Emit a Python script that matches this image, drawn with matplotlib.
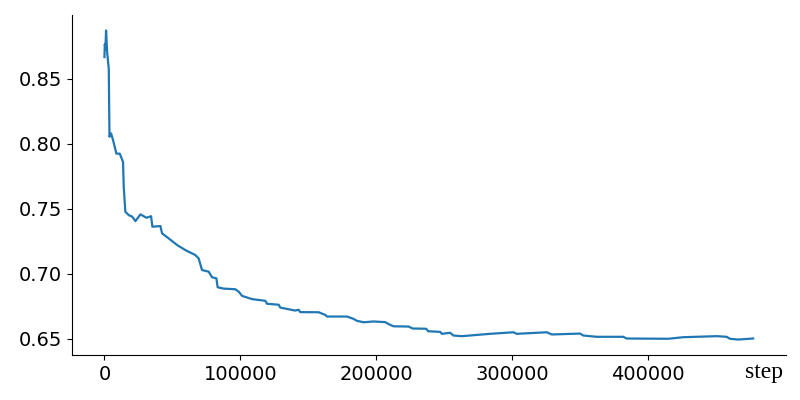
import matplotlib

matplotlib.use("Agg")
import matplotlib.pyplot as plt

# training curve
steps = [
    0, 300, 700, 1200, 2000, 3200, 3700, 4900, 6400, 8800, 11300, 13700,
    14200, 15400, 17900, 20400, 22800, 26500, 30900, 34300, 35300, 41200,
    42400, 47300, 53500, 59600, 66900, 69300, 71800, 76700, 79200, 82400,
    83300, 87700, 96300, 98800, 101300, 108600, 118400, 119700, 128200,
    129400, 140400, 142900, 144100, 157600, 162500, 163800, 178500, 183300,
    185800, 190700, 198000, 206600, 209100, 212700, 223800, 226800, 236800,
    238200, 247100, 248300, 254400, 256800, 263000, 283800, 301000, 303400,
    325500, 329200, 350000, 352400, 362300, 381800, 384300, 415000, 426000,
    450500, 457900, 460300, 466400, 477400,
]
values = [
    0.8665, 0.8766, 0.8720, 0.8870, 0.8702, 0.8574, 0.8052, 0.8078, 0.8024,
    0.7922, 0.7922, 0.7858, 0.7666, 0.7475, 0.7449, 0.7438, 0.7403, 0.7455,
    0.7429, 0.7441, 0.7360, 0.7365, 0.7309, 0.7270, 0.7219, 0.7180, 0.7142,
    0.7117, 0.7027, 0.7014, 0.6971, 0.6963, 0.6894, 0.6884, 0.6879, 0.6860,
    0.6828, 0.6803, 0.6790, 0.6767, 0.6760, 0.6738, 0.6715, 0.6721, 0.6703,
    0.6702, 0.6682, 0.6669, 0.6669, 0.6651, 0.6636, 0.6625, 0.6631, 0.6626,
    0.6611, 0.6594, 0.6592, 0.6577, 0.6575, 0.6556, 0.6551, 0.6536, 0.6544,
    0.6523, 0.6518, 0.6536, 0.6548, 0.6536, 0.6548, 0.6531, 0.6538, 0.6523,
    0.6513, 0.6513, 0.6500, 0.6498, 0.6510, 0.6518, 0.6513, 0.6498, 0.6492,
    0.6500,
]
xticks = [0, 100000, 200000, 300000, 400000]
yticks = [0.65, 0.70, 0.75, 0.80, 0.85]

fig, ax = plt.subplots(figsize=(8, 4), dpi=100)
fig.subplots_adjust(left=0.09, right=0.982, bottom=0.1125, top=0.9625)

ax.plot(steps, values, color="#1f77b4", linewidth=1.6)
ax.spines["top"].set_visible(False)
ax.spines["right"].set_visible(False)
ax.tick_params(labelsize=14)
ax.set_xticks(xticks)
ax.set_yticks(yticks)

ax.text(0.996, -0.02, "step", transform=ax.transAxes, ha="right", va="top",
        fontsize=17, family="Liberation Serif")

fig.savefig("out.png", dpi=100)
